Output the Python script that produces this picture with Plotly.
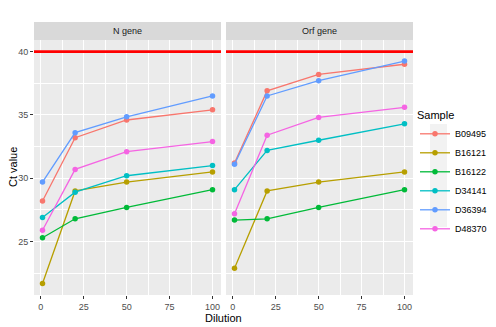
import plotly.graph_objects as go
from plotly.subplots import make_subplots

# Ct value by dilution, one panel per gene

dilution = [1, 20, 50, 100]
samples = ["B09495", "B16121", "B16122", "D34141", "D36394", "D48370"]
colors = ["#F8766D", "#B79F00", "#00BA38", "#00BFC4", "#619CFF", "#F564E3"]
genes = ["N gene", "Orf gene"]

n_gene = {
	"B09495": [28.2, 33.2, 34.6, 35.4],
	"B16121": [21.7, 29.0, 29.7, 30.5],
	"B16122": [25.3, 26.8, 27.7, 29.1],
	"D34141": [26.9, 28.9, 30.2, 31.0],
	"D36394": [29.7, 33.6, 34.85, 36.5],
	"D48370": [25.9, 30.7, 32.1, 32.9],
}
orf_gene = {
	"B09495": [31.2, 36.9, 38.2, 39.0],
	"B16121": [22.9, 29.0, 29.7, 30.5],
	"B16122": [26.7, 26.8, 27.7, 29.1],
	"D34141": [29.1, 32.2, 33.0, 34.3],
	"D36394": [31.1, 36.5, 37.7, 39.25],
	"D48370": [27.2, 33.4, 34.8, 35.6],
}
cutoff = 40

fig = make_subplots(rows=1, cols=2, shared_yaxes=True, horizontal_spacing=0.0132)

for col, values in enumerate([n_gene, orf_gene]):
	for name, color in zip(samples, colors):
		fig.add_trace(go.Scatter(
			x=dilution, y=values[name], name=name, mode="lines+markers",
			line=dict(color=color, width=1.3),
			marker=dict(color=color, size=5.5),
			legendgroup=name, showlegend=(col == 0),
		), row=1, col=col + 1)
	fig.add_shape(type="line", xref="x domain" if col == 0 else "x2 domain",
		yref="y", x0=0, x1=1, y0=cutoff, y1=cutoff,
		line=dict(color="#FF0000", width=2.6))

# facet strips
domains = [(0, 0.4934), (0.5066, 1)]
for (d0, d1), gene in zip(domains, genes):
	fig.add_shape(type="rect", xref="paper", yref="paper", x0=d0, x1=d1,
		y0=1, y1=1 + 18 / 255, fillcolor="#D9D9D9", line=dict(width=0), layer="below")
	fig.add_annotation(x=(d0 + d1) / 2, y=1 + 9 / 255, xref="paper", yref="paper",
		xanchor="center", yanchor="middle",
		text=gene, showarrow=False, font=dict(size=9, color="#1A1A1A"))

# axis titles
fig.add_annotation(x=(223 - 34) / 379, y=-(317.5 - 295) / 255, xref="paper", yref="paper",
	xanchor="center", yanchor="middle",
	text="Dilution", showarrow=False, font=dict(size=11, color="#000000"))
fig.add_annotation(x=-(34 - 12.5) / 379, y=0.5, xref="paper", yref="paper",
	xanchor="center", yanchor="middle",
	text="Ct value", textangle=-90, showarrow=False, font=dict(size=11, color="#000000"))

# grey box behind legend keys
fig.add_shape(type="rect", xref="paper", yref="paper",
	x0=(430 - 34) / 379, x1=(447 - 34) / 379,
	y0=(295 - 227) / 255, y1=(295 - 124) / 255,
	fillcolor="#F2F2F2", line=dict(width=0), layer="below")

axis_style = dict(
	showgrid=True, gridcolor="#FFFFFF", gridwidth=1.1,
	zeroline=False, showline=False, automargin=False,
	ticks="outside", ticklen=3, tickcolor="#333333", tickwidth=1,
	tickfont=dict(size=9, color="#4D4D4D"),
)
for ax in ["xaxis", "xaxis2"]:
	fig.update_layout(**{ax: dict(
		axis_style, range=[-3.95, 104.95], tickvals=[0, 25, 50, 75, 100],
		minor=dict(tickvals=[12.5, 37.5, 62.5, 87.5], showgrid=True, gridcolor="#FFFFFF", gridwidth=0.5),
	)})
fig.update_layout(xaxis=dict(domain=list(domains[0])), xaxis2=dict(domain=list(domains[1])))
fig.update_yaxes(axis_style, range=[20.785, 40.915], tickvals=[25, 30, 35, 40],
	minor=dict(tickvals=[22.5, 27.5, 32.5, 37.5], showgrid=True, gridcolor="#FFFFFF", gridwidth=0.5))
fig.update_yaxes(ticks="", row=1, col=2)

# page body adds an 8px margin, so the figure is 8px smaller and shifted
fig.update_layout(
	width=488, height=319,
	margin=dict(l=26, r=83, t=32, b=32, autoexpand=False),
	paper_bgcolor="#FFFFFF", plot_bgcolor="#EBEBEB",
	font=dict(family="Liberation Sans, Arial, sans-serif"),
	legend=dict(
		title=dict(text="Sample", font=dict(size=11, color="#000000")),
		font=dict(size=9, color="#000000"),
		x=(415 - 34) / 379, xanchor="left", y=(295 - 105) / 255, yanchor="top",
		bgcolor="rgba(0,0,0,0)", itemwidth=30, tracegroupgap=0,
	),
)

fig.write_html("out.html")
